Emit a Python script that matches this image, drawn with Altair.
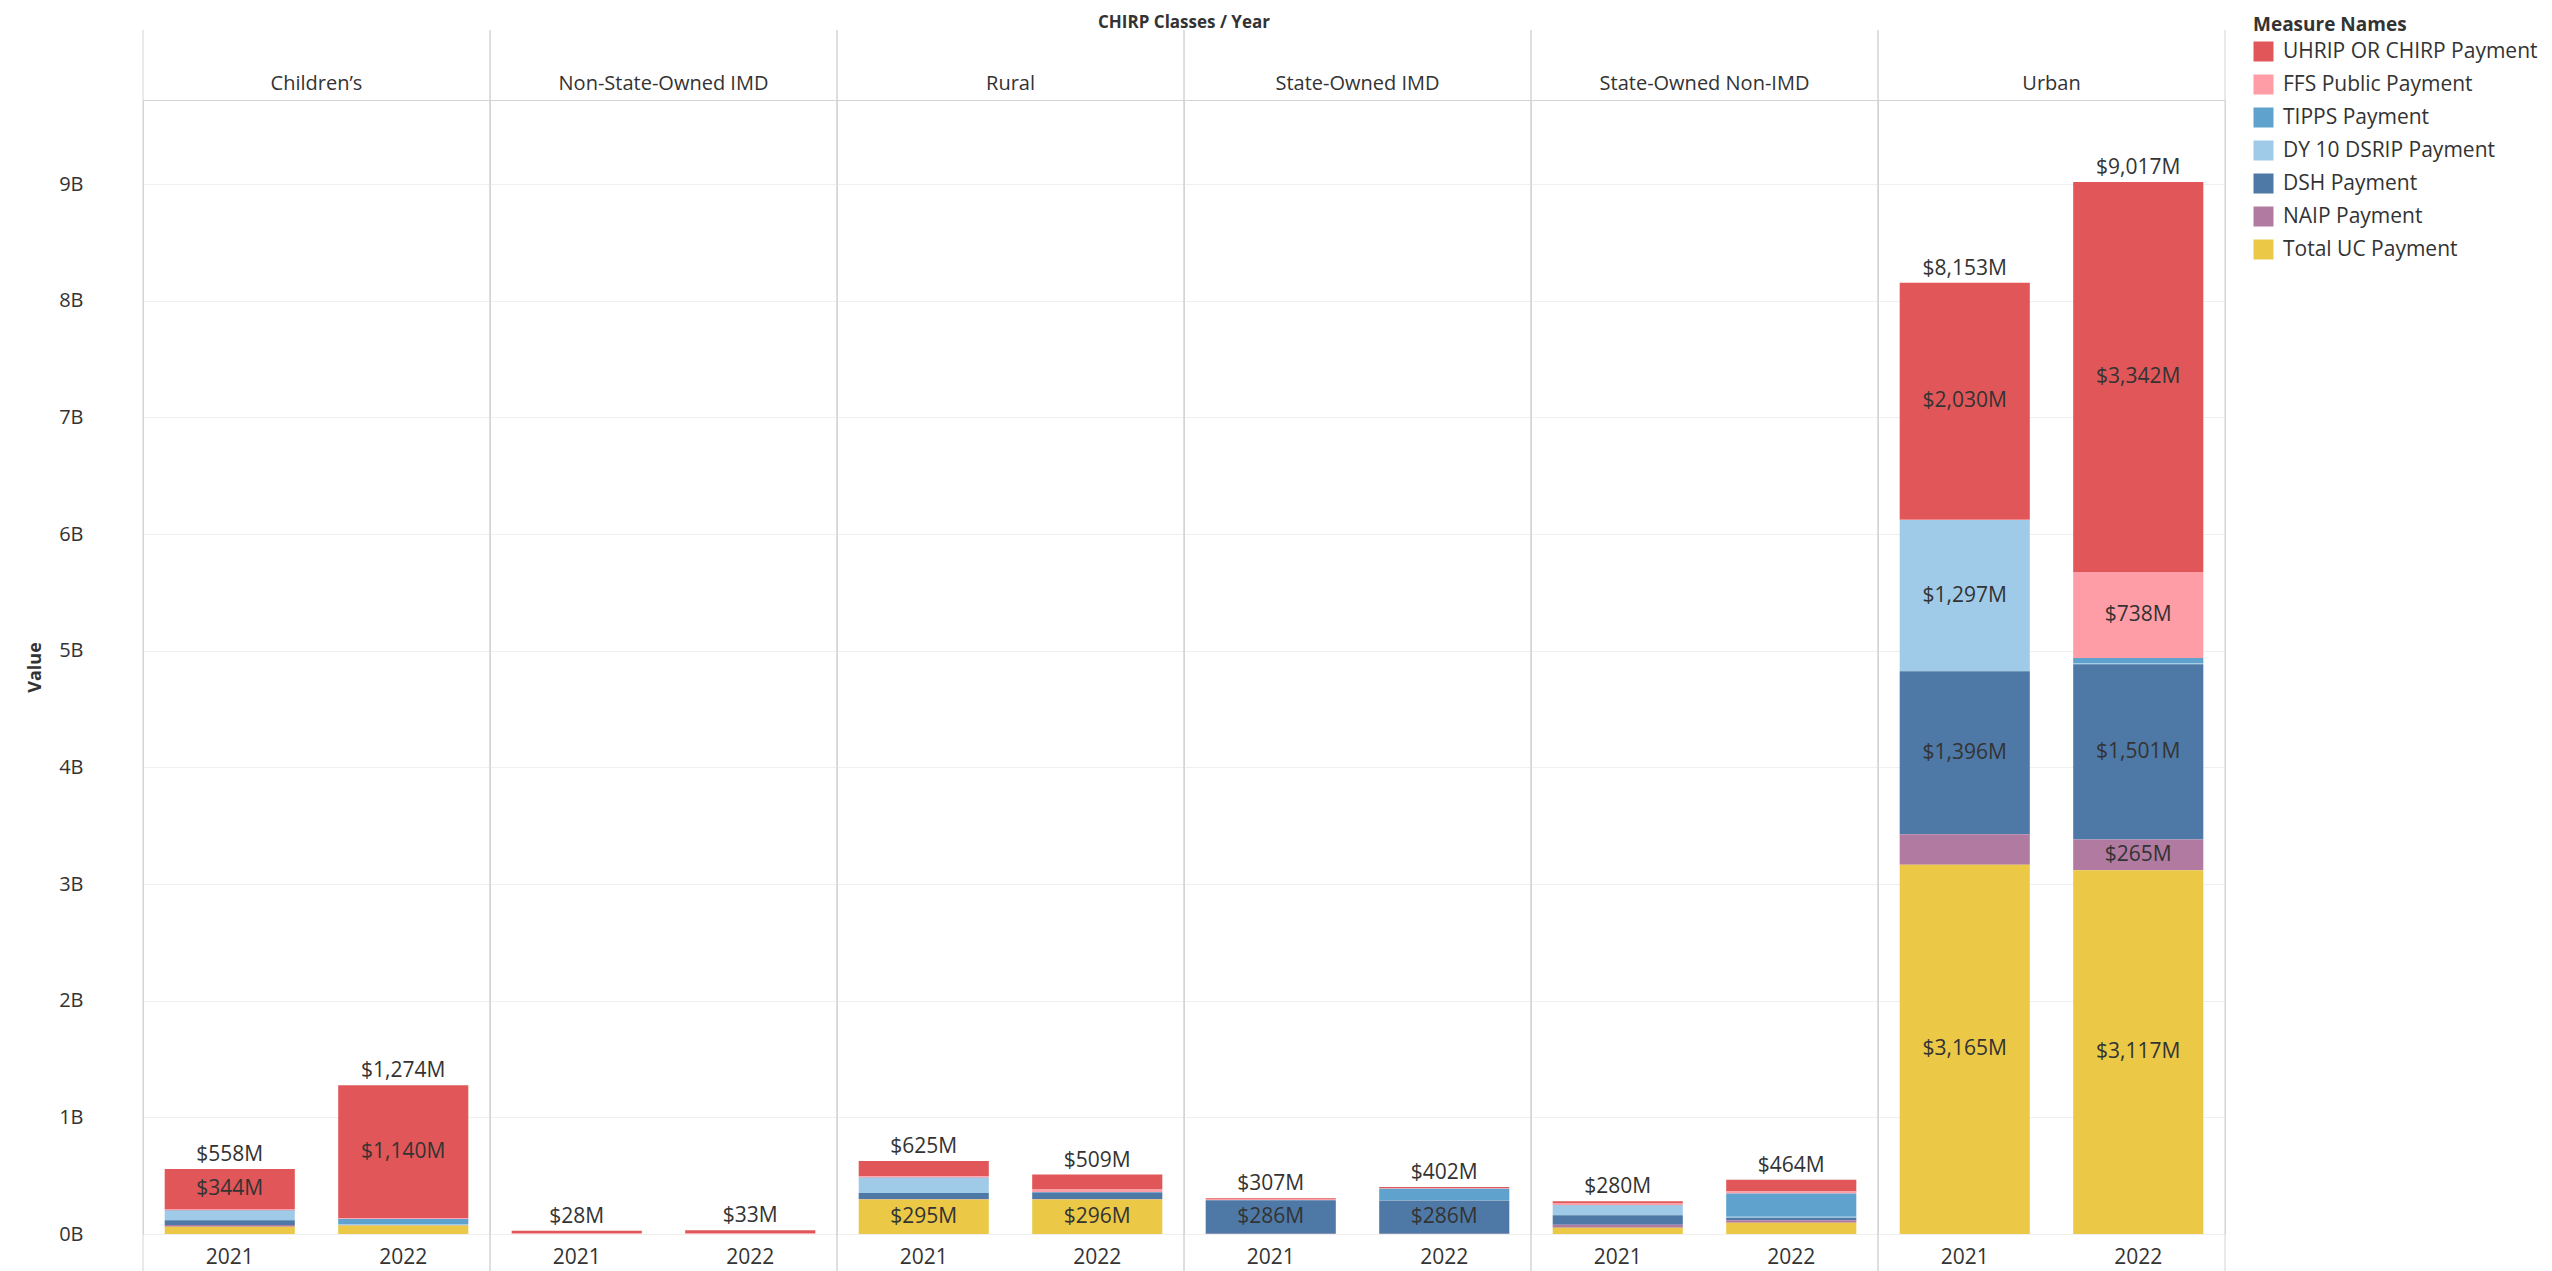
import altair as alt
import pandas as pd

classes = ["Children’s", "Non-State-Owned IMD", "Rural", "State-Owned IMD",
           "State-Owned Non-IMD", "Urban"]
years = ["2021", "2022"]
measures = ["UHRIP OR CHIRP Payment", "FFS Public Payment", "TIPPS Payment",
            "DY 10 DSRIP Payment", "DSH Payment", "NAIP Payment", "Total UC Payment"]
colors = ["#E15759", "#FF9DA7", "#5FA2CE", "#A0CBE8", "#4E79A7", "#B07AA1", "#EBC946"]

# values in $M, order: (class, year) -> C21, C22, N21, N22, R21, R22, S21, S22, SN21, SN22, U21, U22
uhrip = [344, 1140, 22, 27, 130, 128, 12, 10, 19, 99, 2030, 3342]
ffs = [12, 5, 6, 6, 12, 20, 6, 5, 14, 17, 3, 738]
tipps = [5, 44, 0, 0, 3, 6, 0, 96, 4, 200, 0, 48]
dsrip = [80, 8, 0, 0, 128, 0, 0, 3, 83, 8, 1297, 6]
dsh = [40, 3, 0, 0, 52, 55, 286, 286, 80, 23, 1396, 1501]
naip = [15, 2, 0, 0, 5, 4, 3, 2, 26, 20, 262, 265]
total_uc = [62, 72, 0, 0, 295, 296, 0, 0, 54, 97, 3165, 3117]

series = [uhrip, ffs, tipps, dsrip, dsh, naip, total_uc]

rows = []
for mi, (m, vals) in enumerate(zip(measures, series)):
    k = 0
    for c in classes:
        for y in years:
            rows.append({"cls": c, "year": y, "measure": m,
                         "rank": len(measures) - 1 - mi, "value": vals[k]})
            k += 1
df = pd.DataFrame(rows)

PW = 347
PH = 1134
YMAX = 9720
FONT = "Open Sans"
TXT = "#333333"
LINE = "#d4d4d4"

base = alt.Chart()

bars = base.mark_bar().encode(
    x=alt.X("year:N", title=None,
            scale=alt.Scale(paddingInner=0.25, paddingOuter=0.125),
            axis=alt.Axis(labelAngle=0, labelFontSize=21, labelColor=TXT, ticks=False,
                          domain=False, labelPadding=12, labelFont=FONT)),
    y=alt.Y("value:Q", stack="zero",
            scale=alt.Scale(domain=[0, YMAX], nice=False),
            axis=alt.Axis(values=list(range(0, 10000, 1000)),
                          labelExpr="datum.value / 1000 + 'B'",
                          title="Value", titleFontSize=18, titleFontWeight="bold",
                          titleColor=TXT, titlePadding=14, labelFontSize=20,
                          labelColor=TXT, labelPadding=60, ticks=False, domain=False,
                          gridColor="#efefef", labelFont=FONT, titleFont=FONT)),
    color=alt.Color("measure:N", scale=alt.Scale(domain=measures, range=colors),
                    legend=alt.Legend(title="Measure Names", orient="none",
                                      legendX=6 * PW + 28, legendY=-84)),
    order=alt.Order("rank:Q", sort="ascending"),
)

seg_text = base.transform_window(
    cum="sum(value)", frame=[None, 0], groupby=["cls", "year"],
    sort=[alt.SortField("rank", order="ascending")]
).transform_calculate(
    mid="datum.cum - datum.value / 2",
    lbl="'$' + format(datum.value, ',') + 'M'"
).transform_filter(
    "datum.value >= 263"
).mark_text(fontSize=21, color=TXT, font=FONT).encode(
    x="year:N", y=alt.Y("mid:Q"), text="lbl:N"
)

tot_text = base.transform_aggregate(
    total="sum(value)", groupby=["cls", "year"]
).transform_calculate(
    lbl="'$' + format(datum.total, ',') + 'M'"
).mark_text(fontSize=21, color=TXT, baseline="bottom", dy=-4, font=FONT).encode(
    x="year:N", y=alt.Y("total:Q"), text="lbl:N"
)

edges = base.transform_aggregate(n="count()").mark_rule(color=LINE, strokeWidth=1).encode(
    x=alt.value(0), y=alt.value(-70), y2=alt.value(PH + 40)
)
edges_r = base.transform_aggregate(n="count()").mark_rule(color=LINE, strokeWidth=1).encode(
    x=alt.value(PW), y=alt.value(-70), y2=alt.value(PH + 40)
)

layer = alt.layer(bars, seg_text, tot_text, edges, edges_r, data=df).properties(
    width=PW, height=PH
)

chart = layer.facet(
    column=alt.Column("cls:N", sort=classes,
                      header=alt.Header(title="CHIRP Classes / Year", titleFontSize=17,
                                        titleFontWeight="bold", titleColor=TXT,
                                        titleFont=FONT, titlePadding=32,
                                        labelFontSize=20, labelColor=TXT, labelFont=FONT,
                                        labelPadding=6)),
    spacing=0,
    bounds="flush",
).properties(
    padding={"left": 18, "top": 6, "right": 5, "bottom": 0}
).configure_view(
    stroke=LINE, strokeWidth=1
).configure_legend(
    titleFontSize=19, titleFontWeight="bold", titleColor=TXT, titleFont=FONT,
    labelFontSize=21, labelColor=TXT, labelFont=FONT, symbolType="square",
    symbolSize=400, symbolStrokeWidth=0, rowPadding=11, labelLimit=400,
    labelOffset=9, titlePadding=6
)

chart.save("out.html", embed_options={"renderer": "svg", "actions": False})
